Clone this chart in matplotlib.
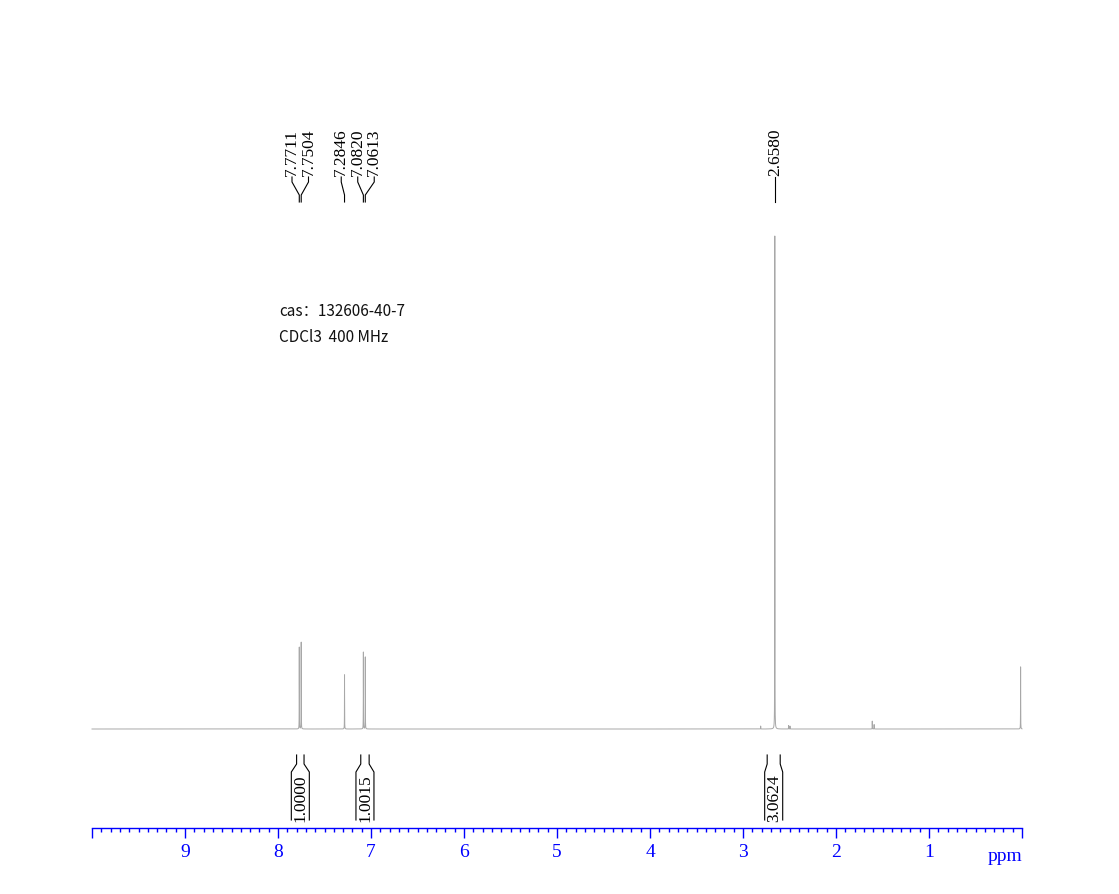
import numpy as np
import matplotlib
matplotlib.use('Agg')
import matplotlib.pyplot as plt

# peaks (ppm, relative height, 2.658 = 100)
peak_ppm = [7.7711, 7.7504, 7.2846, 7.0820, 7.0613, 2.6580,
            2.81, 2.51, 2.495, 1.61, 1.59, 0.015]
peak_height = [16.6, 17.6, 11.0, 15.6, 14.6, 100.0,
               0.6, 0.7, 0.6, 1.6, 0.9, 12.6]

labelled_ppm = [7.7711, 7.7504, 7.2846, 7.0820, 7.0613, 2.6580]

integral_ranges = [(7.80, 7.72), (7.11, 7.02), (2.74, 2.60)]
integral_values = ['1.0000', '1.0015', '3.0624']

sample_lines = ['cas\uff1a132606-40-7', 'CDCl3  400 MHz']

W, H = 1119, 895
X0, X1 = 92, 1022          # pixel span of 10 -> 0 ppm
AXIS_Y = 829
BASE_Y = 730
SCALE = 4.93               # px per unit of relative height
PX_PER_PPM = (X1 - X0) / 10.0

serif = 'Liberation Serif'


def ppm2px(p):
    return X0 + (10.0 - p) * PX_PER_PPM


def px2ppm(v):
    return 10.0 - (v - X0) / PX_PER_PPM


def py(y_px):
    # pixel-from-top -> axes data y
    return AXIS_Y - y_px


fig = plt.figure(figsize=(W / 100, H / 100), dpi=100)
ax = fig.add_axes([X0 / W, (H - AXIS_Y) / H, (X1 - X0) / W, AXIS_Y / H])
ax.set_xlim(10, 0)
ax.set_ylim(0, AXIS_Y)
ax.patch.set_alpha(0)

# spectrum as a sum of narrow lorentzians
x = np.linspace(10, 0, 400001)
y = np.zeros_like(x)
hw = 0.0008
for p, h in zip(peak_ppm, peak_height):
    y += h * hw**2 / ((x - p)**2 + hw**2)
ax.plot(x, py(BASE_Y) + y * SCALE, color='#a8a8a8', lw=0.7, clip_on=False)

# peak labels, spread so they do not overlap
min_gap = 16.5
clusters = [[ppm2px(p)] for p in sorted(labelled_ppm, reverse=True)]
changed = True
while changed:
    changed = False
    out = []
    for c in clusters:
        if out:
            prev = out[-1]
            pc = np.mean(prev) + (len(prev) - 1) * min_gap / 2
            cc = np.mean(c) - (len(c) - 1) * min_gap / 2
            if cc - pc < min_gap:
                out[-1] = prev + c
                changed = True
                continue
        out.append(c)
    clusters = out
label_px = []
for c in clusters:
    m = np.mean(c)
    n = len(c)
    label_px += [m + (i - (n - 1) / 2) * min_gap for i in range(n)]

for p, lx in zip(sorted(labelled_ppm, reverse=True), label_px):
    lxd = px2ppm(lx)
    ax.plot([lxd, lxd, p, p], [py(178), py(183), py(196), py(203)],
            color='black', lw=0.8, clip_on=False)
    ax.text(lxd, py(176), '%.4f' % p, rotation=90, ha='center', va='bottom',
            fontsize=12.5, family=serif, color='black')

# integrals
for (a, b), val in zip(integral_ranges, integral_values):
    xa, xb = ppm2px(a), ppm2px(b)
    mid = (xa + xb) / 2
    half = max((xb - xa) / 2 + 2.5, 9)
    ba, bb = mid - half, mid + half
    ys = [py(756), py(765), py(773), py(821)]
    ax.plot([px2ppm(xa), px2ppm(xa), px2ppm(ba), px2ppm(ba)], ys,
            color='black', lw=0.8, clip_on=False)
    ax.plot([px2ppm(xb), px2ppm(xb), px2ppm(bb), px2ppm(bb)], ys,
            color='black', lw=0.8, clip_on=False)
    ax.text(px2ppm(mid), py(798), val, rotation=90, ha='center', va='center',
            fontsize=12.5, family=serif, color='black')

# sample info
for i, s in enumerate(sample_lines):
    ax.text(px2ppm(279), py(312 + 26 * i), s,
            ha='left', va='center', fontsize=11,
            family=['Noto Sans CJK SC', 'DejaVu Sans'], color='#111111')

# ppm axis
for s in ['top', 'left', 'right']:
    ax.spines[s].set_visible(False)
ax.spines['bottom'].set_color('blue')
ax.spines['bottom'].set_linewidth(1.0)
ax.set_yticks([])
ax.set_xticks(range(11))
ax.set_xticklabels([''] + [str(i) for i in range(1, 10)] + [''])
ax.set_xticks(np.arange(0, 10.01, 0.1), minor=True)
ax.tick_params(axis='x', which='major', direction='out', length=7, width=1,
               color='blue', labelcolor='blue', labelsize=14, pad=4)
ax.tick_params(axis='x', which='minor', direction='out', length=3, width=1,
               color='blue')
for t in ax.get_xticklabels():
    t.set_family(serif)
fig.text(1005 / W, 1 - 857 / H, 'ppm', ha='center', va='center',
         fontsize=14, family=serif, color='blue')

fig.savefig('out.png', dpi=100)
